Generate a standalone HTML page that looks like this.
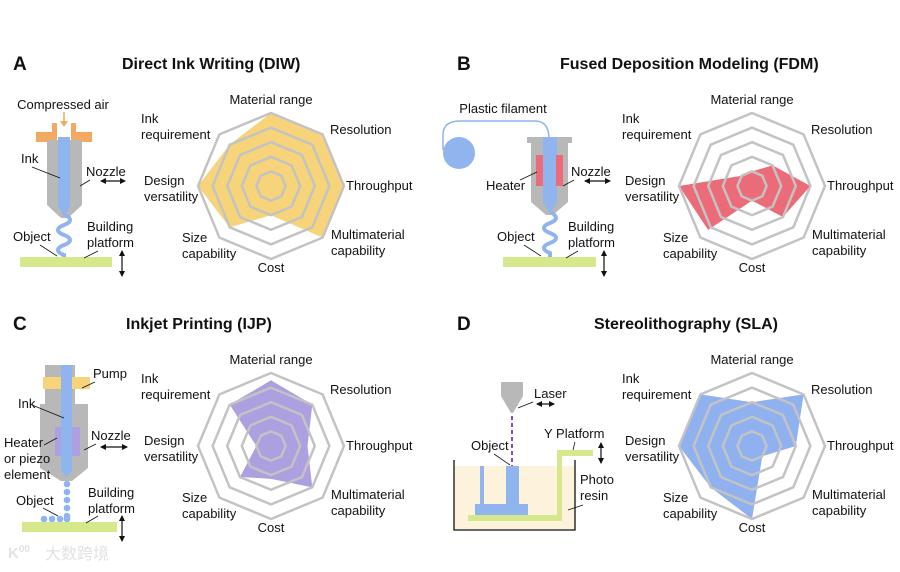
<!DOCTYPE html>
<html><head><meta charset="utf-8"><style>
html,body{margin:0;padding:0;background:#fff;}
svg{display:block;font-family:"Liberation Sans",Arial,sans-serif;}
.t{font-size:13px;fill:#111;}
.h{font-size:16px;font-weight:bold;fill:#111;}
.L{font-size:19px;font-weight:bold;fill:#111;}
.ring{fill:none;stroke:#c3c3c3;stroke-width:2.5;}
</style></head><body>
<svg width="900" height="572" viewBox="0 0 900 572" xmlns="http://www.w3.org/2000/svg">
<defs>
<marker id="ah" markerWidth="6" markerHeight="6" refX="5" refY="3" orient="auto-start-reverse" markerUnits="userSpaceOnUse"><path d="M0,0 L6,3 L0,6 z" fill="#111"/></marker>
<g id="rings">
<polygon class="ring" points="0,-73 51.6,-51.6 73,0 51.6,51.6 0,73 -51.6,51.6 -73,0 -51.6,-51.6"/>
<polygon class="ring" points="0,-58.4 41.3,-41.3 58.4,0 41.3,41.3 0,58.4 -41.3,41.3 -58.4,0 -41.3,-41.3"/>
<polygon class="ring" points="0,-43.8 31,-31 43.8,0 31,31 0,43.8 -31,31 -43.8,0 -31,-31"/>
<polygon class="ring" points="0,-29.2 20.6,-20.6 29.2,0 20.6,20.6 0,29.2 -20.6,20.6 -29.2,0 -20.6,-20.6"/>
<polygon class="ring" points="0,-14.6 10.3,-10.3 14.6,0 10.3,10.3 0,14.6 -10.3,10.3 -14.6,0 -10.3,-10.3"/>
</g>
<g id="labels">
<text class="t" x="0" y="-82" text-anchor="middle">Material range</text>
<text class="t" x="59" y="-52">Resolution</text>
<text class="t" x="75" y="4">Throughput</text>
<text class="t" x="60" y="53">Multimaterial</text>
<text class="t" x="60" y="69">capability</text>
<text class="t" x="0" y="86" text-anchor="middle">Cost</text>
<text class="t" x="-89" y="56">Size</text>
<text class="t" x="-89" y="72">capability</text>
<text class="t" x="-127" y="-1">Design</text>
<text class="t" x="-127" y="15">versatility</text>
<text class="t" x="-130" y="-63">Ink</text>
<text class="t" x="-130" y="-47">requirement</text>
</g>
</defs>

<text class="L" x="13" y="70">A</text>
<text class="h" x="122" y="69">Direct Ink Writing (DIW)</text>
<text class="L" x="457" y="70">B</text>
<text class="h" x="560" y="69">Fused Deposition Modeling (FDM)</text>
<text class="L" x="13" y="330">C</text>
<text class="h" x="126" y="329">Inkjet Printing (IJP)</text>
<text class="L" x="457" y="330">D</text>
<text class="h" x="594" y="329">Stereolithography (SLA)</text>

<g transform="translate(271,186)">
<polygon fill="#f7d47a" transform="scale(73)" points="0,-1 0.707,-0.707 1,0 0.707,0.707 0,0.4 -0.566,0.566 -1,0 -0.566,-0.566"/>
<use href="#rings"/><use href="#labels"/>
</g>
<g transform="translate(752,186)">
<polygon fill="#ec6b78" transform="scale(73)" points="0,-0.2 0.283,-0.283 0.8,0 0.424,0.424 0,0.2 -0.601,0.601 -1,0 -0.141,-0.141"/>
<use href="#rings"/><use href="#labels"/>
</g>
<g transform="translate(271,446)">
<polygon fill="#ad9fe0" transform="scale(73)" points="0,-0.9 0.566,-0.566 0.5,0 0.566,0.566 0,0.45 -0.424,0.424 -0.2,0 -0.566,-0.566"/>
<use href="#rings"/><use href="#labels"/>
</g>
<g transform="translate(752,446)">
<polygon fill="#8fb1ef" transform="scale(73)" points="0,-0.6 0.707,-0.707 0.6,0 0.141,0.141 0,1 -0.566,0.566 -1,0 -0.707,-0.707"/>
<use href="#rings"/><use href="#labels"/>
</g>

<!-- DIW -->
<text class="t" x="63" y="109" text-anchor="middle">Compressed air</text>
<line x1="64" y1="112" x2="64" y2="124" stroke="#f0a860" stroke-width="1.5"/>
<path d="M60,121 L64,127 L68,121 z" fill="#f0a860"/>
<path d="M36,132 L52,132 L52,123 L57,123 L57,142 L36,142 z" fill="#f2aa62"/>
<path d="M92,132 L76,132 L76,123 L71,123 L71,142 L92,142 z" fill="#f2aa62"/>
<path d="M47,140 L82,140 L82,205 L68,218 L61,218 L47,205 z" fill="#b8b8b8"/>
<path d="M58,137 L70,137 L70,205 L66,215 L63,215 L58,205 z" fill="#8fb4ee"/>
<path d="M64,214 C72,218 72,222 64,225 C56,228 56,232 64,235 C72,238 72,242 64,245 C56,248 56,252 64,255 L64,258" fill="none" stroke="#8fb4ee" stroke-width="4"/>
<rect x="20" y="257" width="92" height="10" fill="#d5e88b"/>
<text class="t" x="21" y="163">Ink</text>
<line x1="32" y1="167" x2="60" y2="178" stroke="#111" stroke-width="0.8"/>
<text class="t" x="86" y="176">Nozzle</text>
<line x1="90" y1="180" x2="80" y2="186" stroke="#111" stroke-width="0.8"/>
<line x1="101" y1="181" x2="125" y2="181" stroke="#111" stroke-width="1.2" marker-start="url(#ah)" marker-end="url(#ah)"/>
<text class="t" x="13" y="241">Object</text>
<line x1="40" y1="245" x2="57" y2="256" stroke="#111" stroke-width="0.8"/>
<text class="t" x="87" y="231">Building</text>
<text class="t" x="87" y="247">platform</text>
<line x1="98" y1="251" x2="84" y2="258" stroke="#111" stroke-width="0.8"/>
<line x1="122" y1="251" x2="122" y2="276" stroke="#111" stroke-width="1.2" marker-start="url(#ah)" marker-end="url(#ah)"/>

<!-- FDM -->
<text class="t" x="503" y="113" text-anchor="middle">Plastic filament</text>
<path d="M443,150 L443,135 Q443,121 460,121 L535,121 Q548,121 549,137" fill="none" stroke="#8fb4ee" stroke-width="1.5"/>
<circle cx="459" cy="153" r="16" fill="#8fb4ee"/>
<rect x="527" y="137" width="45" height="6" fill="#b8b8b8"/>
<path d="M531,142 L568,142 L568,202 L553,215 L546,215 L531,202 z" fill="#b8b8b8"/>
<path d="M543,137 L557,137 L557,202 L551,212 L549,212 L543,202 z" fill="#8fb4ee"/>
<rect x="536" y="155" width="7" height="31" fill="#ec6b78"/>
<rect x="556" y="155" width="7" height="31" fill="#ec6b78"/>
<path d="M550,212 C558,216 558,220 550,223 C542,226 542,230 550,233 C558,236 558,240 550,243 C542,246 542,250 550,253 L550,258" fill="none" stroke="#8fb4ee" stroke-width="4"/>
<rect x="503" y="257" width="93" height="10" fill="#d5e88b"/>
<text class="t" x="486" y="190">Heater</text>
<line x1="520" y1="180" x2="537" y2="172" stroke="#111" stroke-width="0.8"/>
<text class="t" x="571" y="176">Nozzle</text>
<line x1="574" y1="180" x2="563" y2="186" stroke="#111" stroke-width="0.8"/>
<line x1="585" y1="181" x2="610" y2="181" stroke="#111" stroke-width="1.2" marker-start="url(#ah)" marker-end="url(#ah)"/>
<text class="t" x="497" y="241">Object</text>
<line x1="524" y1="245" x2="541" y2="256" stroke="#111" stroke-width="0.8"/>
<text class="t" x="568" y="231">Building</text>
<text class="t" x="568" y="247">platform</text>
<line x1="578" y1="251" x2="566" y2="258" stroke="#111" stroke-width="0.8"/>
<line x1="604" y1="251" x2="604" y2="276" stroke="#111" stroke-width="1.2" marker-start="url(#ah)" marker-end="url(#ah)"/>

<!-- IJP -->
<rect x="45" y="365" width="30" height="42" fill="#b8b8b8"/>
<rect x="43" y="377" width="47" height="12" fill="#f7d47a"/>
<path d="M40,404 L88,404 L88,468 L72,481 L61,481 L40,468 z" fill="#b8b8b8"/>
<rect x="55" y="427" width="25" height="29" fill="#ad9fe0"/>
<path d="M61,365 L72,365 L72,470 L67,477 L66,477 L61,470 z" fill="#8fb4ee"/>
<g fill="#8fb4ee">
<circle cx="67" cy="484" r="3.3"/><circle cx="67" cy="492" r="3.3"/><circle cx="67" cy="500" r="3.3"/><circle cx="67" cy="508" r="3.3"/><circle cx="67" cy="516" r="3.3"/>
<circle cx="44" cy="519" r="3.3"/><circle cx="52" cy="519" r="3.3"/><circle cx="60" cy="519" r="3.3"/><circle cx="67" cy="519" r="3.3"/>
</g>
<rect x="22" y="522" width="95" height="10" fill="#d5e88b"/>
<text class="t" x="93" y="378">Pump</text>
<line x1="95" y1="382" x2="82" y2="388" stroke="#111" stroke-width="0.8"/>
<text class="t" x="18" y="408">Ink</text>
<line x1="32" y1="405" x2="64" y2="418" stroke="#111" stroke-width="0.8"/>
<text class="t" x="4" y="447">Heater</text>
<text class="t" x="4" y="463">or piezo</text>
<text class="t" x="4" y="479">element</text>
<line x1="44" y1="445" x2="57" y2="438" stroke="#111" stroke-width="0.8"/>
<text class="t" x="91" y="440">Nozzle</text>
<line x1="96" y1="444" x2="84" y2="450" stroke="#111" stroke-width="0.8"/>
<line x1="101" y1="447" x2="127" y2="447" stroke="#111" stroke-width="1.2" marker-start="url(#ah)" marker-end="url(#ah)"/>
<text class="t" x="16" y="505">Object</text>
<line x1="43" y1="508" x2="58" y2="516" stroke="#111" stroke-width="0.8"/>
<text class="t" x="88" y="497">Building</text>
<text class="t" x="88" y="513">platform</text>
<line x1="98" y1="516" x2="86" y2="523" stroke="#111" stroke-width="0.8"/>
<line x1="122" y1="516" x2="122" y2="541" stroke="#111" stroke-width="1.2" marker-start="url(#ah)" marker-end="url(#ah)"/>

<!-- SLA -->
<rect x="454" y="466" width="121" height="64" fill="#fdf3dc"/>
<polyline points="454,460 454,530 575,530 575,460" fill="none" stroke="#111" stroke-width="1.3"/>
<path d="M501,382 L523,382 L523,396 L513,413 L511,413 L501,396 z" fill="#b8b8b8"/>
<line x1="512" y1="416" x2="512" y2="466" stroke="#8e4cb8" stroke-width="2" stroke-dasharray="4,3"/>
<rect x="480" y="466" width="4" height="40" fill="#8fb4ee"/>
<rect x="506" y="466" width="13" height="40" fill="#8fb4ee"/>
<rect x="475" y="504" width="53" height="11" fill="#8fb4ee"/>
<path d="M468,515 L557,515 L557,450 L593,450 L593,456 L562,456 L562,521 L468,521 z" fill="#d5e88b"/>
<text class="t" x="534" y="398">Laser</text>
<line x1="518" y1="408" x2="533" y2="402" stroke="#111" stroke-width="0.8"/>
<line x1="537" y1="404" x2="554" y2="404" stroke="#111" stroke-width="1.2" marker-start="url(#ah)" marker-end="url(#ah)"/>
<text class="t" x="471" y="450">Object</text>
<line x1="494" y1="454" x2="510" y2="465" stroke="#111" stroke-width="0.8"/>
<text class="t" x="544" y="438">Y Platform</text>
<line x1="575" y1="442" x2="573" y2="450" stroke="#111" stroke-width="0.8"/>
<line x1="601" y1="443" x2="601" y2="463" stroke="#111" stroke-width="1.2" marker-start="url(#ah)" marker-end="url(#ah)"/>
<text class="t" x="580" y="484">Photo</text>
<text class="t" x="580" y="500">resin</text>
<line x1="583" y1="505" x2="568" y2="510" stroke="#111" stroke-width="0.8"/>

<text x="8" y="558" font-size="15" fill="#e2e2e2" font-weight="bold">K<tspan font-size="10" dy="-6">00</tspan></text>
<text x="45" y="559" font-size="16" fill="#e2e2e2" font-family="'Noto Sans CJK SC',sans-serif">大数跨境</text>
</svg>
</body></html>
